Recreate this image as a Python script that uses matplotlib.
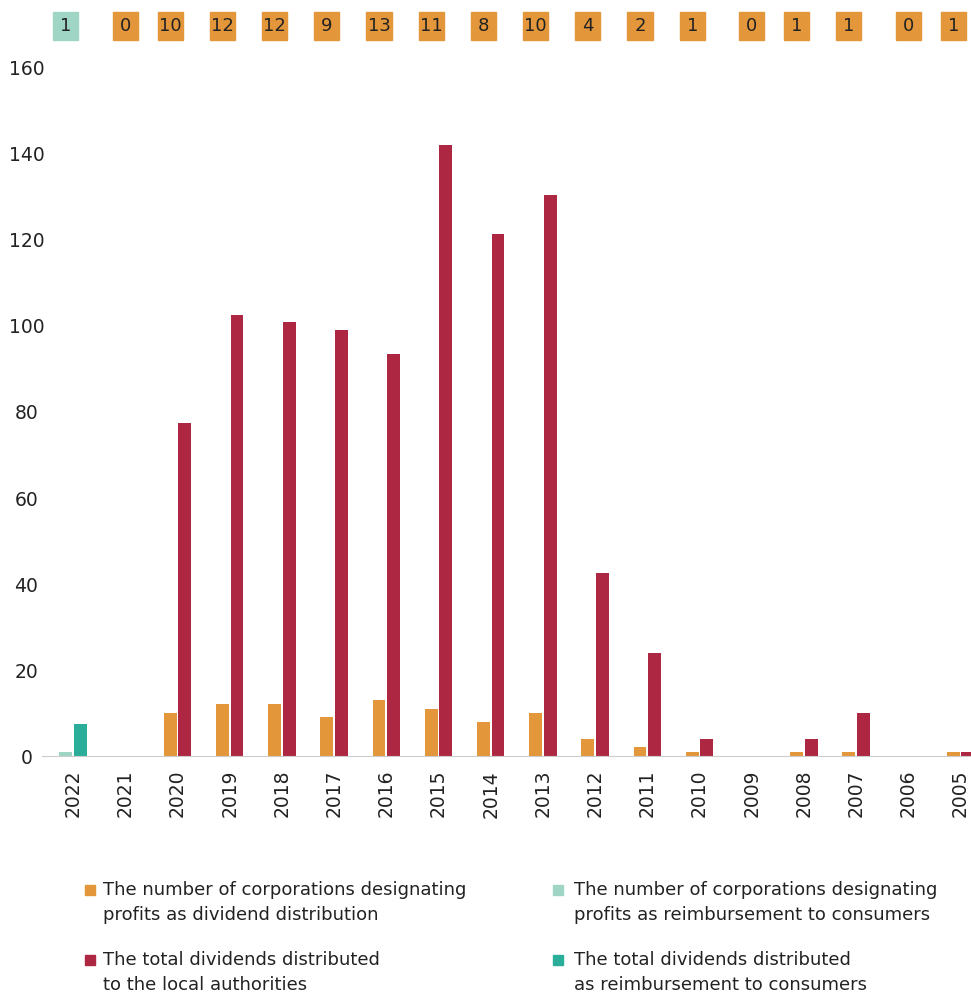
import numpy as np
import matplotlib.pyplot as plt
import matplotlib.transforms as mtransforms
from matplotlib.patches import Rectangle

years = ['2022', '2021', '2020', '2019', '2018', '2017', '2016', '2015', '2014',
         '2013', '2012', '2011', '2010', '2009', '2008', '2007', '2006', '2005']
count_dividend = [0, 0, 10, 12, 12, 9, 13, 11, 8, 10, 4, 2, 1, 0, 1, 1, 0, 1]
total_dividend = [0, 0, 77.5, 102.5, 101, 99, 93.5, 142, 121.5, 130.5, 42.5, 24, 4, 0, 4, 10, 0, 1]
count_reimb = [1, 0, 0, 0, 0, 0, 0, 0, 0, 0, 0, 0, 0, 0, 0, 0, 0, 0]
total_reimb = [7.5, 0, 0, 0, 0, 0, 0, 0, 0, 0, 0, 0, 0, 0, 0, 0, 0, 0]

legend_labels = ['The number of corporations designating\nprofits as dividend distribution',
                 'The total dividends distributed\nto the local authorities',
                 'The number of corporations designating\nprofits as reimbursement to consumers',
                 'The total dividends distributed\nas reimbursement to consumers']

ORANGE = '#E3963A'
RED = '#AE2742'
LTEAL = '#9FD5C5'
TEAL = '#2BAE99'
TXT = '#222222'

W, H = 971, 999
fig = plt.figure(figsize=(W / 100, H / 100), dpi=100)
ax = fig.add_axes([0.043, 0.2432, 0.957, 0.6888])

x = np.arange(len(years))
w = 0.245
off = 0.14

cnt = np.array(count_dividend) + np.array(count_reimb)
is_reimb = np.array(count_reimb) > 0

# left bar = count, right bar = total; teal series where reimbursement
left_vals = np.where(is_reimb, count_reimb, count_dividend)
right_vals = np.where(is_reimb, total_reimb, total_dividend)
left_cols = [LTEAL if r else ORANGE for r in is_reimb]
right_cols = [TEAL if r else RED for r in is_reimb]

ax.bar(x - off, left_vals, width=w, color=left_cols)
ax.bar(x + off, right_vals, width=w, color=right_cols)

ax.set_xlim(-0.6, 17.2)
ax.set_ylim(0, 160)
ax.set_yticks(np.arange(0, 161, 20))
ax.set_xticks(x)
ax.set_xticklabels(years, rotation=90)
ax.tick_params(axis='both', length=0, labelsize=13.5, labelcolor=TXT)
ax.tick_params(axis='x', pad=10)
ax.tick_params(axis='y', pad=11)
for lab in ax.get_yticklabels():
    lab.set_horizontalalignment('center')
for s in ['top', 'right', 'left']:
    ax.spines[s].set_visible(False)
ax.spines['bottom'].set_color('#cccccc')

# count badges above the chart
trans = mtransforms.blended_transform_factory(ax.transData, ax.transAxes)
bw = 0.48
for i in range(len(years)):
    has_bar = left_vals[i] > 0 or right_vals[i] > 0
    bx = x[i] - off if has_bar else x[i]
    col = LTEAL if is_reimb[i] else ORANGE
    ax.add_patch(Rectangle((bx - bw / 2, 1.041), bw, 0.041, transform=trans,
                           color=col, clip_on=False))
    ax.text(bx, 1.0615, str(cnt[i]), transform=trans, ha='center', va='center',
            fontsize=13, color=TXT)

# legend, drawn by hand so the squares sit on the first line
leg_cols = [ORANGE, RED, LTEAL, TEAL]
sq_x = [85, 85, 553, 553]
tx_x = [103, 103, 574, 574]
row_y = [890, 960, 890, 960]
for i in range(4):
    fig.add_artist(Rectangle((sq_x[i] / W, 1 - (row_y[i] + 5) / H), 10 / W, 10 / H,
                             color=leg_cols[i], transform=fig.transFigure))
    fig.text(tx_x[i] / W, 1 - (row_y[i] - 9) / H, legend_labels[i], ha='left', va='top',
             fontsize=13, color=TXT, linespacing=1.5)

fig.savefig('out.png', dpi=100)
